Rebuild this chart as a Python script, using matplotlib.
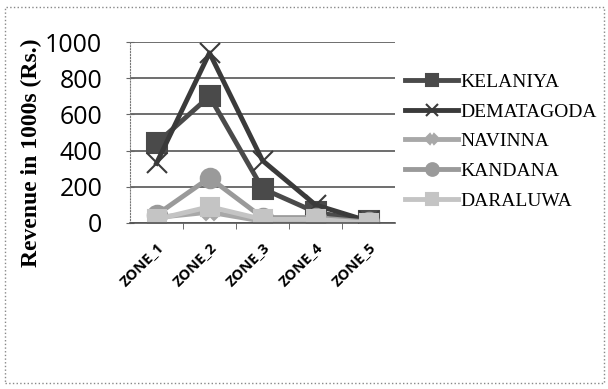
import matplotlib
matplotlib.use("Agg")
import matplotlib.pyplot as plt
from matplotlib.patches import Rectangle

zones = ["ZONE_1", "ZONE_2", "ZONE_3", "ZONE_4", "ZONE_5"]
kelaniya = [440, 700, 190, 60, 10]
dematagoda = [330, 940, 345, 100, 10]
navinna = [30, 60, 10, 10, 0]
kandana = [45, 250, 30, 30, 5]
daraluwa = [20, 90, 20, 20, 0]
yticks = [0, 200, 400, 600, 800, 1000]

series = [
    ("KELANIYA", kelaniya, "#4a4a4a", "s", 14),
    ("DEMATAGODA", dematagoda, "#3a3a3a", "x", 14),
    ("NAVINNA", navinna, "#a8a8a8", "X", 11),
    ("KANDANA", kandana, "#9a9a9a", "o", 14),
    ("DARALUWA", daraluwa, "#c4c4c4", "s", 13),
]

fig = plt.figure(figsize=(6.08, 3.89), dpi=100)
fig.patches.append(Rectangle((0.008, 0.015), 0.986, 0.968, transform=fig.transFigure,
                             fill=False, edgecolor="#888888", linestyle=":", linewidth=1))
ax = fig.add_axes([130/608, 166/389, 265/608, 181/389])
x = list(range(len(zones)))
for name, vals, col, mk, ms in series:
    ax.plot(x, vals, color=col, linewidth=3.5, marker=mk, markersize=ms,
            markeredgewidth=1.5, markeredgecolor=col, markerfacecolor=col, label=name)
ax.set_xlim(-0.5, 4.5)
ax.set_ylim(0, 1000)
ax.set_yticks(yticks)
ax.set_yticklabels([str(v) for v in yticks], fontsize=18, family="Open Sans")
ax.set_xticks(x)
ax.set_xticks([i + 0.5 for i in x[:-1]], minor=True)
ax.set_xticklabels(zones, rotation=45, ha="right", rotation_mode="anchor",
                   fontsize=10.5, family="Open Sans", fontweight="bold")
ax.tick_params(axis="y", direction="inout", length=6, color="#666666", pad=17)
ax.tick_params(axis="x", which="major", length=0, pad=12)
ax.tick_params(axis="x", which="minor", length=4, color="#555555")
ax.grid(axis="y", color="#555555", linewidth=1.2)
for s in ["top", "right"]:
    ax.spines[s].set_visible(False)
ax.spines["left"].set_linestyle(":")
ax.spines["left"].set_color("#777777")
ax.spines["bottom"].set_color("#555555")
ax.spines["bottom"].set_linewidth(1.2)
ax.set_axisbelow(True)
ax.set_ylabel("Revenue in 1000s (Rs.)", family="Liberation Serif", fontweight="bold",
              fontsize=17)
ax.yaxis.set_label_coords(-88/265, 0.39)
leg = ax.legend(loc="upper left", bbox_to_anchor=(1.01, 0.87),
                frameon=False, prop={"family": "Liberation Serif", "size": 14},
                handlelength=2.7, handletextpad=0.15, labelspacing=0.62, borderaxespad=0,
                markerscale=0.65)
fig.savefig("out.png", dpi=100)
